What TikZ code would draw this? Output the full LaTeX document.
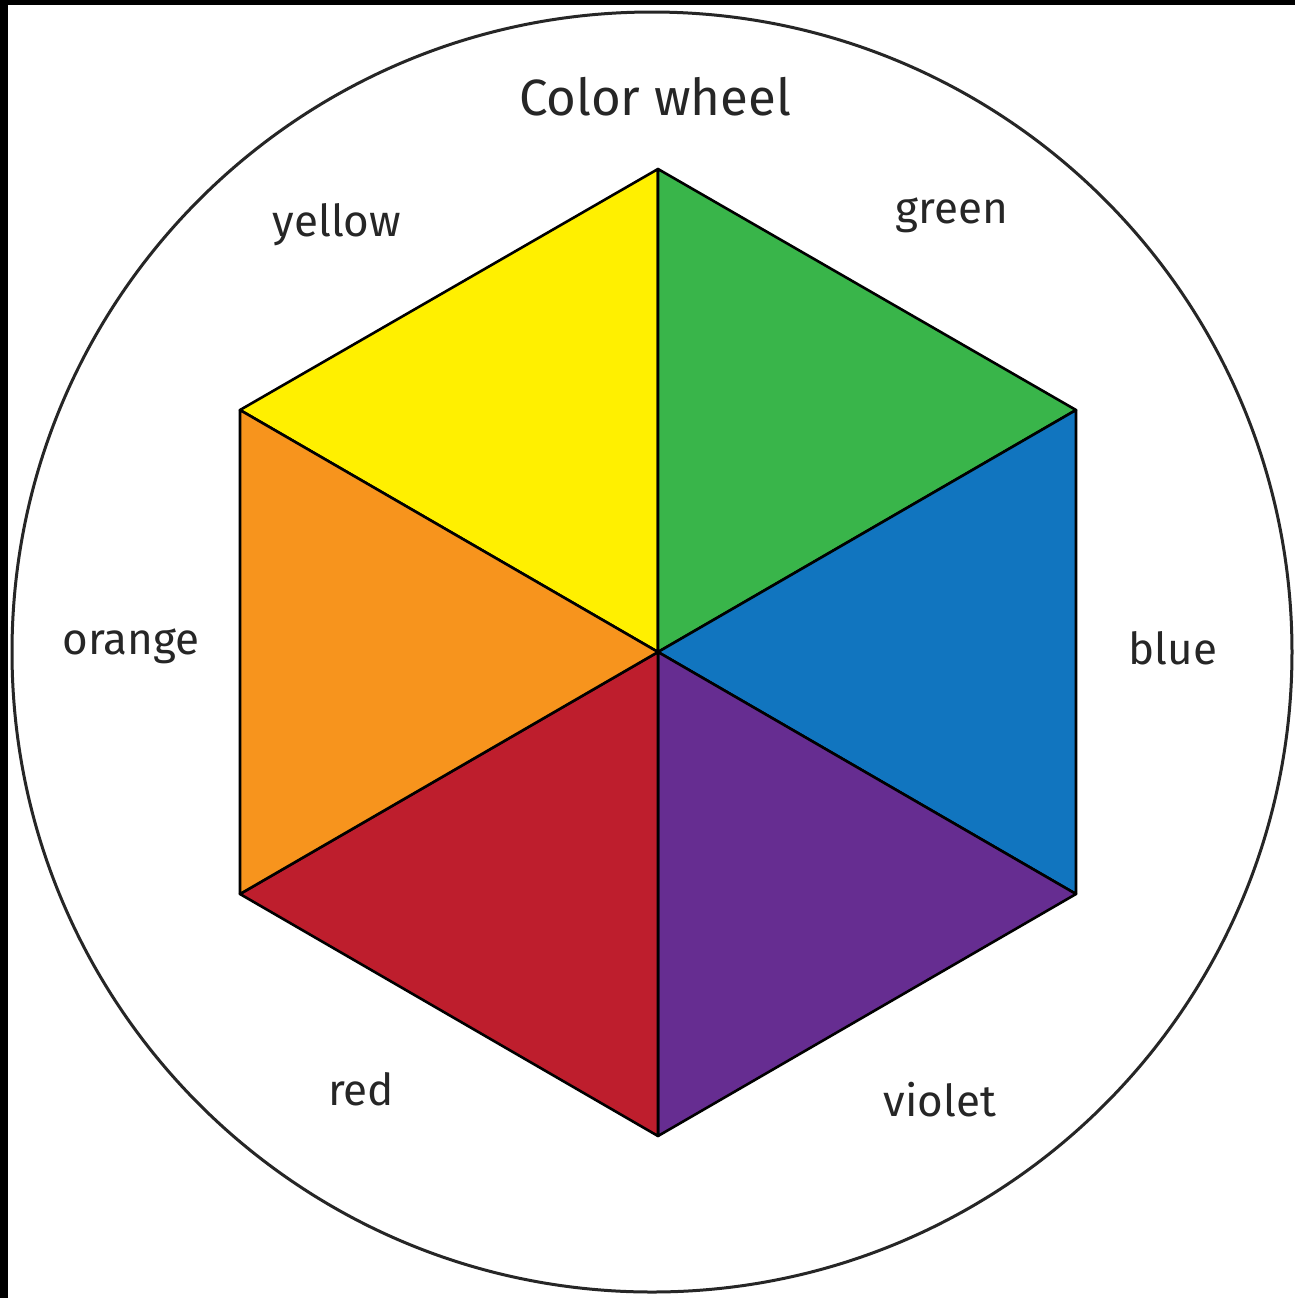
\documentclass[tikz,border=0pt]{standalone}
\usepackage{fontspec}
\setmainfont{Fira Sans}
\definecolor{cyellow}{HTML}{FFF000}
\definecolor{cgreen}{HTML}{39B54A}
\definecolor{cblue}{HTML}{1175BF}
\definecolor{cviolet}{HTML}{662D91}
\definecolor{cred}{HTML}{BE1E2D}
\definecolor{corange}{HTML}{F7941D}
\tikzset{
  wedge/.style={draw=black, line width=1.3pt, line join=round},
  lbl/.style={font=\fontsize{22}{26}\selectfont, text=black!85, inner sep=0pt},
  ttl/.style={font=\fontsize{25.5}{30}\selectfont, text=black!85, inner sep=0pt}
}
\begin{document}
\begin{tikzpicture}[x=0.5pt, y=-0.5pt]
\useasboundingbox (0,0) rectangle (1295,1298);
\fill[white] (0,0) rectangle (1295,1298);
\fill[black] (0,0) rectangle (1295,5);
\fill[black] (0,0) rectangle (8,1298);
\draw[line width=1.5pt, black!85] (652,652) circle (640);
\coordinate (C) at (658,652);
\coordinate (T) at (658,169);
\coordinate (UR) at (1076,410);
\coordinate (LR) at (1076,894);
\coordinate (B) at (658,1136);
\coordinate (LL) at (240,894);
\coordinate (UL) at (240,410);
\filldraw[wedge, fill=cyellow] (C) -- (UL) -- (T) -- cycle;
\filldraw[wedge, fill=cgreen] (C) -- (T) -- (UR) -- cycle;
\filldraw[wedge, fill=cblue] (C) -- (UR) -- (LR) -- cycle;
\filldraw[wedge, fill=cviolet] (C) -- (LR) -- (B) -- cycle;
\filldraw[wedge, fill=cred] (C) -- (B) -- (LL) -- cycle;
\filldraw[wedge, fill=corange] (C) -- (LL) -- (UL) -- cycle;
\node[ttl] (title) at (655,97) {Color wheel};
\node[lbl] (yellow) at (337,225) {yellow};
\node[lbl] (green) at (952,215) {green};
\node[lbl] (orange) at (131,646) {orange};
\node[lbl] (blue) at (1173,648) {blue};
\node[lbl] (red) at (361,1089) {red};
\node[lbl] (violet) at (940,1100) {violet};
\end{tikzpicture}
\end{document}
